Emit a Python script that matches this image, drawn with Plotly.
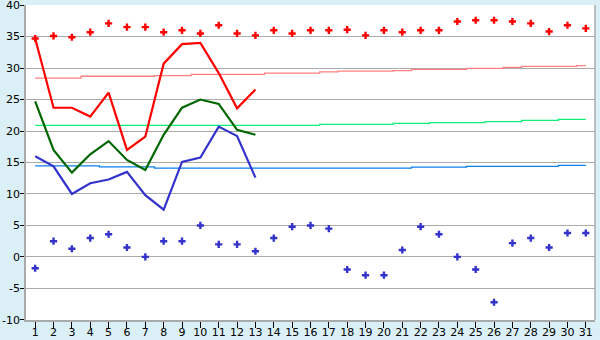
import plotly.graph_objects as go

days = list(range(1, 32))
days13 = list(range(1, 14))

tmax = [34.7, 23.7, 23.7, 22.3, 26.1, 17.0, 19.1, 30.7, 33.8, 34.0, 29.2, 23.6, 26.6]
tmean = [24.7, 17.0, 13.4, 16.3, 18.4, 15.4, 13.8, 19.4, 23.7, 25.0, 24.3, 20.2, 19.4]
tmin = [16.0, 14.4, 10.0, 11.7, 12.3, 13.5, 9.8, 7.5, 15.1, 15.8, 20.7, 19.2, 12.6]

rec_max = [34.7, 35.1, 34.9, 35.7, 37.1, 36.5, 36.5, 35.7, 36.0, 35.5, 36.8, 35.5, 35.2,
           36.0, 35.5, 36.0, 36.0, 36.1, 35.2, 36.0, 35.7, 36.0, 36.0, 37.4, 37.6, 37.6,
           37.4, 37.1, 35.8, 36.8, 36.3]
rec_min = [-1.8, 2.5, 1.3, 3.0, 3.6, 1.5, 0.0, 2.5, 2.5, 5.0, 2.0, 2.0, 0.9,
           3.0, 4.8, 5.0, 4.5, -2.0, -2.9, -2.9, 1.1, 4.8, 3.6, 0.0, -2.0, -7.2,
           2.2, 3.0, 1.5, 3.8, 3.8]

norm_max = [28.4, 28.4, 28.4, 28.7, 28.7, 28.7, 28.7, 28.8, 28.8, 29.0, 29.0, 29.0, 29.0,
            29.2, 29.2, 29.2, 29.4, 29.5, 29.5, 29.5, 29.6, 29.8, 29.8, 29.8, 29.95, 29.95,
            30.1, 30.26, 30.26, 30.26, 30.4]
norm_mean = [20.9] * 16 + [21.05] * 4 + [21.2] * 2 + [21.35] * 3 + [21.5] * 2 + [21.7] * 2 + [21.85] * 2
norm_min = [14.45] * 4 + [14.29] * 3 + [14.12] * 14 + [14.25] * 3 + [14.4] * 5 + [14.55] * 2

y_ticks = list(range(-10, 41, 5))

fig = go.Figure()

fig.add_trace(go.Scatter(x=days, y=norm_max, mode="lines", line=dict(color="#FF8080", width=1.3, shape="hvh"), hoverinfo="skip"))
fig.add_trace(go.Scatter(x=days, y=norm_mean, mode="lines", line=dict(color="#11EE77", width=1.3, shape="hvh"), hoverinfo="skip"))
fig.add_trace(go.Scatter(x=days, y=norm_min, mode="lines", line=dict(color="#0A7FEA", width=1.3, shape="hvh"), hoverinfo="skip"))

fig.add_trace(go.Scatter(x=days13, y=tmax, mode="lines", line=dict(color="#FF0000", width=2.2)))
fig.add_trace(go.Scatter(x=days13, y=tmean, mode="lines", line=dict(color="#006600", width=2.2)))
fig.add_trace(go.Scatter(x=days13, y=tmin, mode="lines", line=dict(color="#3333CC", width=2.2)))

fig.add_trace(go.Scatter(x=days, y=rec_max, mode="markers",
                         marker=dict(symbol="cross", size=6, color="#FF0000", line=dict(width=0))))
fig.add_trace(go.Scatter(x=days, y=rec_min, mode="markers",
                         marker=dict(symbol="cross", size=6, color="#3333CC", line=dict(width=0))))

fig.update_layout(
    width=600, height=340,
    margin=dict(l=26, r=5, t=5, b=20),
    paper_bgcolor="#DAEFF6",
    plot_bgcolor="#FFFFFF",
    showlegend=False,
    font=dict(family="DejaVu Sans", size=11, color="#000000"),
)
fig.update_xaxes(
    range=[0.5, 31.5], tickvals=days, ticktext=[str(d) for d in days],
    showgrid=False, zeroline=False, showline=True, linecolor="#AAAAAA", linewidth=1.5,
    mirror=False, ticks="outside", ticklen=6, tickcolor="#000000", tickwidth=1,
    tickfont=dict(size=11), automargin=False, ticklabeloverflow="allow",
    ticklabelstandoff=-5,
)
fig.update_yaxes(
    range=[-10.02, 40.02], tickvals=y_ticks, ticktext=[str(v) for v in y_ticks],
    showgrid=True, gridcolor="#AAAAAA", gridwidth=1.2, zeroline=False,
    showline=True, linecolor="#AAAAAA", linewidth=1.5,
    ticks="outside", ticklen=4, tickcolor="#000000", tickwidth=1,
    tickfont=dict(size=11), automargin=False, ticklabeloverflow="allow",
    ticklabelstandoff=-2,
)
fig.add_shape(type="line", xref="paper", yref="paper", x0=1, x1=1, y0=0, y1=1,
              line=dict(color="#AAAAAA", width=1.5))

fig.write_html("out.html")
